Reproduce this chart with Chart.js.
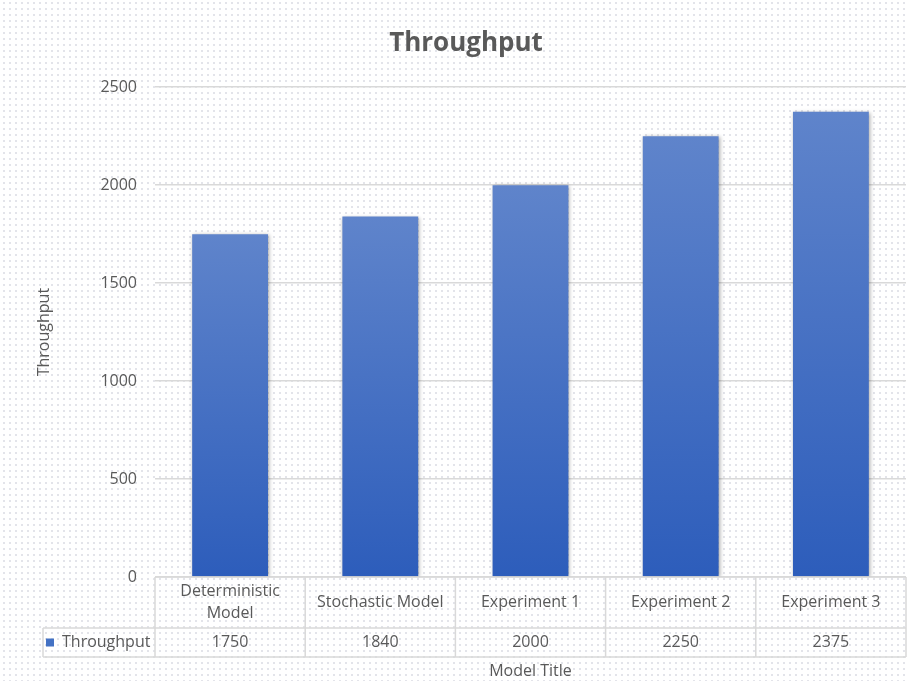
<!DOCTYPE html>
<html>
<head>
<meta charset="utf-8">
<script src="https://cdn.jsdelivr.net/npm/chart.js@4.4.1/dist/chart.umd.min.js"></script>
<style>
  html, body { margin: 0; padding: 0; }
  body {
    width: 909px; height: 681px;
    background-color: #ffffff;
    background-image: radial-gradient(circle, #e3e4ea 0.8px, transparent 1.1px);
    background-size: 6px 6px;
    background-position: 1px 6px;
  }
  #wrap { width: 909px; height: 681px; }
</style>
</head>
<body>
<div id="wrap"><canvas id="throughputChart"></canvas></div>
<script>
// donnees du graphique
var categories = [['Deterministic', 'Model'], ['Stochastic Model'], ['Experiment 1'], ['Experiment 2'], ['Experiment 3']];
var throughput = [1750, 1840, 2000, 2250, 2375];
var seriesName = 'Throughput';
var yTicks = [0, 500, 1000, 1500, 2000, 2500];

var textColor = '#595959';
var lineColor = '#d9d9d9';
var fontFamily = '"Open Sans", "Liberation Sans", sans-serif';

// degrade par barre, du haut de la barre jusqu'a la base
function barGradient(context) {
    var chart = context.chart;
    var y = chart.scales.y;
    if (!y || context.dataIndex === undefined) return '#4472c4';
    var top = y.getPixelForValue(throughput[context.dataIndex]);
    var base = y.getPixelForValue(0);
    if (!isFinite(top) || !isFinite(base) || top === base) return '#4472c4';
    var g = chart.ctx.createLinearGradient(0, top, 0, base);
    g.addColorStop(0, '#5f84cb');
    g.addColorStop(1, '#2d5dbb');
    return g;
}

// ombre legere sous les barres
var shadowPlugin = {
    id: 'barShadow',
    beforeDatasetsDraw: function(chart) {
        var ctx = chart.ctx;
        ctx.save();
        ctx.shadowColor = 'rgba(0,0,0,0.35)';
        ctx.shadowBlur = 4;
        ctx.shadowOffsetX = 1;
        ctx.shadowOffsetY = 1;
    },
    afterDatasetsDraw: function(chart) {
        chart.ctx.restore();
    }
};

// table de donnees sous l'axe x (comme dans Excel)
var dataTablePlugin = {
    id: 'dataTable',
    afterDraw: function(chart) {
        var ctx = chart.ctx;
        var x = chart.scales.x;
        var area = chart.chartArea;
        var n = categories.length;
        var step = (area.right - area.left) / n;
        var top = area.bottom;
        var mid = top + 51;
        var bottom = top + 80;
        var legendLeft = 43;

        ctx.save();
        ctx.strokeStyle = lineColor;
        ctx.lineWidth = 1.5;
        ctx.beginPath();
        // lignes horizontales
        ctx.moveTo(area.left, top); ctx.lineTo(area.right, top);
        ctx.moveTo(legendLeft, mid); ctx.lineTo(area.right, mid);
        ctx.moveTo(legendLeft, bottom); ctx.lineTo(area.right, bottom);
        // lignes verticales
        for (var i = 0; i <= n; i++) {
            var px = (i < n) ? x.getPixelForTick(i) - step / 2 : x.getPixelForTick(n - 1) + step / 2;
            ctx.moveTo(px, top); ctx.lineTo(px, bottom);
        }
        ctx.moveTo(legendLeft, mid); ctx.lineTo(legendLeft, bottom);
        ctx.stroke();

        ctx.fillStyle = textColor;
        ctx.font = '16px ' + fontFamily;
        ctx.textAlign = 'center';
        ctx.textBaseline = 'middle';
        var lh = 22;
        categories.forEach(function(lines, i) {
            var cx = x.getPixelForTick(i);
            var cy = top + 25 - (lines.length - 1) * lh / 2;
            lines.forEach(function(l, j) {
                ctx.fillText(l, cx, cy + j * lh);
            });
            ctx.fillText(String(throughput[i]), cx, (mid + bottom) / 2);
        });

        // cle de legende
        ctx.fillStyle = '#4472c4';
        ctx.fillRect(46, (mid + bottom) / 2 - 4, 8, 8);
        ctx.fillStyle = textColor;
        ctx.textAlign = 'left';
        ctx.fillText(seriesName, 62, (mid + bottom) / 2);
        ctx.restore();
    }
};

var ctx = document.getElementById('throughputChart').getContext('2d');
var chart = new Chart(ctx, {
    type: 'bar',
    data: {
        labels: categories,
        datasets: [{
            label: seriesName,
            data: throughput,
            backgroundColor: barGradient,
            borderWidth: 0,
            barPercentage: 0.505,
            categoryPercentage: 1
        }]
    },
    plugins: [shadowPlugin, dataTablePlugin],
    options: {
        responsive: true,
        maintainAspectRatio: false,
        animation: false,
        layout: { padding: { left: 26, right: 3, top: 0, bottom: 0 } },
        plugins: {
            legend: { display: false },
            tooltip: { enabled: false },
            title: {
                display: true,
                text: 'Throughput',
                color: textColor,
                font: { family: fontFamily, size: 26, weight: 'bold', lineHeight: 1.2 },
                padding: { top: 28, bottom: 28 }
            }
        },
        scales: {
            x: {
                grid: { display: false },
                border: { display: false },
                ticks: { display: false },
                title: {
                    display: true,
                    text: 'Model Title',
                    color: textColor,
                    font: { family: fontFamily, size: 16, lineHeight: 1.2 },
                    padding: { top: 0, bottom: 0 }
                },
                afterFit: function(scale) { scale.height = 104; }
            },
            y: {
                min: 0,
                max: 2500,
                afterBuildTicks: function(scale) {
                    scale.ticks = yTicks.map(function(v) { return { value: v }; });
                },
                grid: { color: lineColor, lineWidth: 1.5, drawTicks: false },
                border: { display: false },
                ticks: {
                    color: textColor,
                    font: { family: fontFamily, size: 16 },
                    padding: 18,
                    callback: function(value) { return String(value); }
                },
                title: {
                    display: true,
                    text: 'Throughput',
                    color: textColor,
                    font: { family: fontFamily, size: 16, lineHeight: 1.2 },
                    padding: { top: 9, bottom: 0 }
                },
                afterFit: function(scale) { scale.width = 129; }
            }
        }
    }
});
</script>
</body>
</html>
